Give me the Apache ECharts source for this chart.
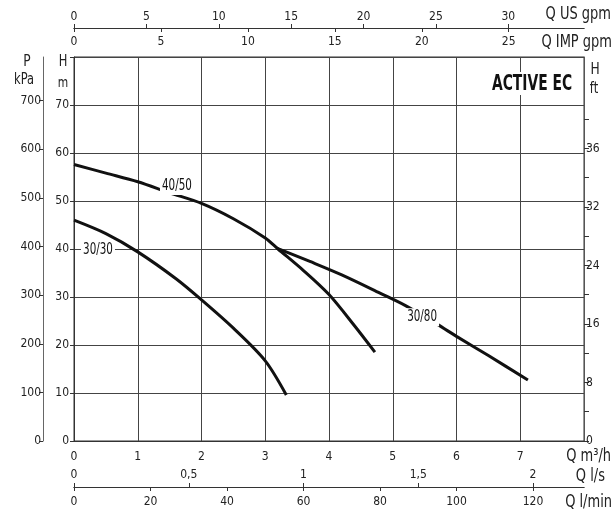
<!DOCTYPE html>
<html><head><meta charset="utf-8">
<script src="https://cdn.jsdelivr.net/npm/echarts@6/dist/echarts.min.js"></script>
<style>html,body{margin:0;padding:0;background:#fff}#c{width:616px;height:515px}</style>
</head><body><div id="c"></div>
<script>
const FONT = '"DejaVu Sans Condensed","Liberation Sans Narrow","Liberation Sans",sans-serif';

// ---- Curve data (Q in m3/h, H in m) ----
const q3030 = [0, 0.5, 1.0, 1.6, 2.0, 2.5, 3.0, 3.33];
const h3030 = [46.0, 43.2, 39.4, 33.8, 29.4, 23.5, 16.7, 9.6];

const q4050 = [0, 0.5, 1.0, 1.5, 2.0, 2.5, 3.0, 3.2, 3.6, 4.0, 4.4, 4.72];
const h4050 = [57.6, 55.8, 54.0, 51.7, 49.5, 46.3, 42.3, 40.0, 35.5, 30.5, 24.0, 18.5];

const q3080 = [3.18, 3.7, 4.2, 4.8, 5.2, 5.7, 6.0, 6.5, 7.12];
const h3080 = [40.2, 37.4, 34.6, 30.8, 28.2, 24.3, 21.8, 17.8, 12.7];

// ---- Curve labels ----
const labelNames = ['30/30', '40/50', '30/80'];
const labelQ = [0.376, 1.615, 5.46];
const labelH = [39.8, 53.1, 25.8];

// ---- Axis ticks / labels ----
const qMax = 8, hMax = 80;
const usGpmTicks = [0, 5, 10, 15, 20, 25, 30];
const impGpmTicks = [0, 5, 10, 15, 20, 25];
const lsTicks = [0, 0.5, 1, 1.5, 2];
const lminTicks = [0, 20, 40, 60, 80, 100, 120];
const kpaTicks = [0, 100, 200, 300, 400, 500, 600, 700];
const ftTicks = [0, 20, 40, 60, 80, 100, 120, 140, 160, 180, 200, 220];
const ftLabelValues = [0, 40, 80, 120, 160, 200];
const ftLabelTexts = ['0', '8', '16', '24', '32', '36'];

const M3H_TO_USGPM = 4.4029, M3H_TO_IMPGPM = 3.6662, M3H_TO_LS = 1 / 3.6, M3H_TO_LMIN = 16.6667;
const M_TO_FT = 3.28084, M_TO_KPA = 9.875;

const zip = (a, b) => a.map((v, i) => [v, b[i]]);
const TXT = '#222', LINE = '#444', AX = '#333';

const lab = (o) => Object.assign({ color: TXT, fontFamily: FONT, fontSize: 12 }, o);
const axLine = (c) => ({ show: true, onZero: false, lineStyle: { color: c || AX, width: 1 } });

const txt = (text, x, y, size, align, sx) => ({
  type: 'text', x: x, y: y, scaleX: sx || 0.85, z: 100,
  style: { text: text, fontFamily: FONT, fontSize: size, fill: TXT, align: align || 'center', verticalAlign: 'middle' }
});

const chart = echarts.init(document.getElementById('c'), null, { renderer: 'canvas' });
chart.setOption({
  animation: false,
  backgroundColor: '#fff',
  grid: { left: 74, right: 32, top: 57, bottom: 74, show: true, borderColor: AX, borderWidth: 1 },
  xAxis: [
    { type: 'value', min: 0, max: qMax, interval: 1, position: 'bottom',
      axisLine: axLine(), axisTick: { show: false },
      axisLabel: lab({ margin: 10, formatter: v => v >= qMax ? '' : String(v) }),
      splitLine: { show: true, lineStyle: { color: LINE, width: 1 } } },
    { type: 'value', min: 0, max: qMax * M3H_TO_LS, position: 'bottom', offset: 46,
      axisLine: axLine(),
      axisTick: { inside: true, length: 4, customValues: lsTicks, lineStyle: { color: AX } },
      axisLabel: lab({ inside: true, margin: 6, customValues: lsTicks, formatter: v => String(v).replace('.', ',') }),
      splitLine: { show: false } },
    { type: 'value', min: 0, max: qMax * M3H_TO_LMIN, position: 'bottom', offset: 46,
      axisLine: axLine(),
      axisTick: { length: 4, customValues: lminTicks, lineStyle: { color: AX } },
      axisLabel: lab({ margin: 9, customValues: lminTicks }),
      splitLine: { show: false } },
    { type: 'value', min: 0, max: qMax * M3H_TO_USGPM, position: 'top', offset: 29,
      axisLine: axLine(),
      axisTick: { length: 4, customValues: usGpmTicks, lineStyle: { color: AX } },
      axisLabel: lab({ margin: 5, customValues: usGpmTicks }),
      splitLine: { show: false } },
    { type: 'value', min: 0, max: qMax * M3H_TO_IMPGPM, position: 'top', offset: 29,
      axisLine: axLine(),
      axisTick: { inside: true, length: 4, customValues: impGpmTicks, lineStyle: { color: AX } },
      axisLabel: lab({ inside: true, margin: 8, customValues: impGpmTicks }),
      splitLine: { show: false } }
  ],
  yAxis: [
    { type: 'value', min: 0, max: hMax, interval: 10, position: 'left',
      axisLine: axLine(),
      axisTick: { show: true, length: 4, lineStyle: { color: AX } },
      axisLabel: lab({ margin: 5, formatter: v => v >= hMax ? '' : String(v) }),
      splitLine: { show: true, lineStyle: { color: LINE, width: 1 } } },
    { type: 'value', min: 0, max: hMax * M_TO_KPA, position: 'left', offset: 31,
      axisLine: axLine('#666'),
      axisTick: { show: true, length: 4, customValues: kpaTicks, lineStyle: { color: AX } },
      axisLabel: lab({ margin: 2, customValues: kpaTicks }),
      splitLine: { show: false } },
    { type: 'value', min: 0, max: hMax * M_TO_FT, position: 'right',
      axisLine: axLine('#555'),
      axisTick: { show: true, length: 5, customValues: ftTicks, lineStyle: { color: AX } },
      axisLabel: lab({ margin: 2, customValues: ftLabelValues,
        formatter: v => { const i = ftLabelValues.indexOf(Math.round(v)); return i >= 0 ? ftLabelTexts[i] : ''; } }),
      splitLine: { show: false } }
  ],
  graphic: [
    txt('P', 27, 62, 16),
    txt('kPa', 24, 80, 15),
    txt('H', 63, 62, 15),
    txt('m', 63, 83, 14),
    txt('H', 595, 70, 16),
    txt('ft', 594, 89, 15),
    txt('Q US gpm', 611, 15, 17, 'right'),
    txt('Q IMP gpm', 612, 43, 17, 'right'),
    txt('Q m³/h', 611, 457, 17, 'right'),
    txt('Q l/s', 605, 477, 17, 'right'),
    txt('Q l/min', 612, 503, 17, 'right'),
    { type: 'rect', z: 99, shape: { x: 489, y: 72, width: 86, height: 23 }, style: { fill: '#fff' } },
    { type: 'text', x: 532, y: 84, scaleX: 0.7, z: 100,
      style: { text: 'ACTIVE EC', fontFamily: FONT, fontSize: 22, fontWeight: 'bold', fill: '#111', align: 'center', verticalAlign: 'middle' } }
  ],
  series: [
    { name: '30/30', type: 'line', data: zip(q3030, h3030), smooth: 0.3, symbol: 'none', z: 3,
      lineStyle: { color: '#111', width: 3 } },
    { name: '40/50', type: 'line', data: zip(q4050, h4050), smooth: 0.3, symbol: 'none', z: 3,
      lineStyle: { color: '#111', width: 3 } },
    { name: '30/80', type: 'line', data: zip(q3080, h3080), smooth: 0.3, symbol: 'none', z: 3,
      lineStyle: { color: '#111', width: 3 } },
    { name: 'labels', type: 'custom', z: 10,
      data: labelNames.map((n, i) => [labelQ[i], labelH[i]]),
      renderItem: (params, api) => {
        const p = api.coord([api.value(0), api.value(1)]);
        return { type: 'group', children: [
          { type: 'rect', shape: { x: p[0] - 17, y: p[1] - 9, width: 34, height: 18 }, style: { fill: '#fff' } },
          { type: 'text', x: p[0], y: p[1], scaleX: 0.72,
            style: { text: labelNames[params.dataIndex], fontFamily: FONT, fontSize: 16, fill: '#111', align: 'center', verticalAlign: 'middle' } }
        ] };
      } }
  ]
});
</script></body></html>
